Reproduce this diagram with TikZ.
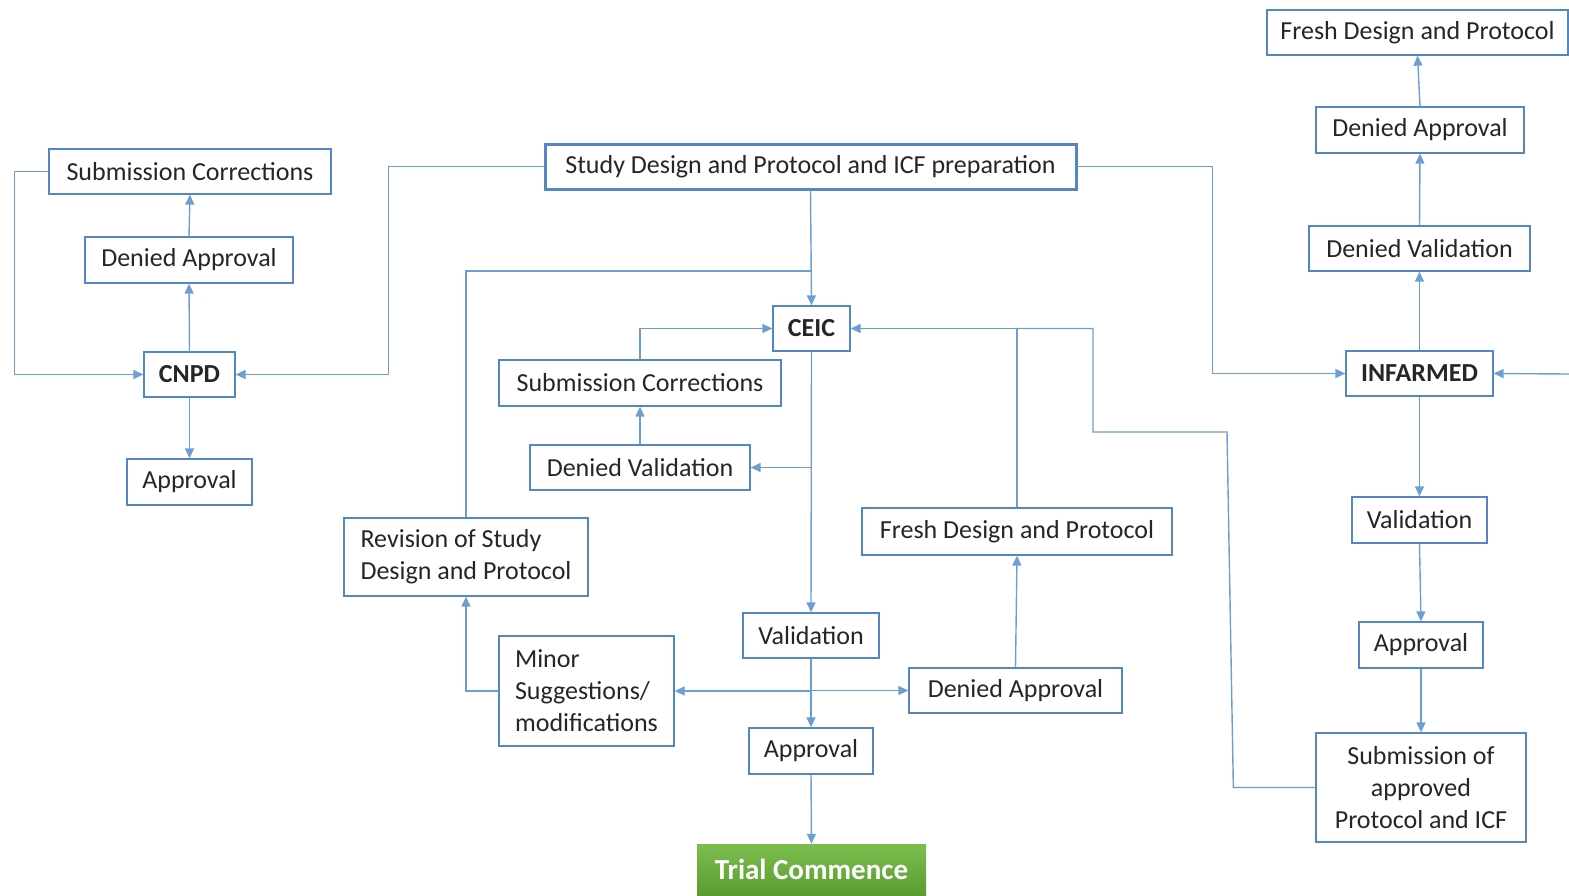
\documentclass[tikz,border=0pt]{standalone}
\usepackage{fontspec}
\setmainfont{Carlito}
\usetikzlibrary{arrows.meta}
\definecolor{linecol}{RGB}{108,158,210}
\definecolor{boxcol}{RGB}{84,134,192}
\definecolor{gtop}{RGB}{124,190,78}
\definecolor{gbot}{RGB}{90,156,50}
\tikzset{
  box/.style={draw=boxcol, line width=1.3pt, fill=white, inner sep=0pt,
    font=\fontsize{26}{32}\selectfont, text=black!85},
  bbox/.style={box, font=\fontsize{26}{32}\selectfont\bfseries},
  mline/.style={box, align=left},
  conn/.style={draw=linecol, line width=1.4pt, -{Triangle[length=10pt,width=9pt]}},
  plain/.style={draw=linecol, line width=1.4pt},
}
\begin{document}
\begin{tikzpicture}[x=1pt, y={(0pt,-1pt)}]
\useasboundingbox (0,0) rectangle (1569,895);
% main
\node[box, line width=3pt, minimum width=531, minimum height=45] (study) at (810.5,166.5) {Study Design and Protocol and ICF preparation};
% left column
\node[box, minimum width=282, minimum height=45] (lsc) at (190,171.5) {Submission Corrections};
\node[box, minimum width=208, minimum height=46] (lda) at (189,260) {Denied Approval};
\node[bbox, minimum width=91, minimum height=45] (cnpd) at (189.5,374.5) {CNPD};
\node[box, minimum width=125, minimum height=46] (lap) at (189.5,482) {Approval};
% center
\node[bbox, minimum width=77, minimum height=45] (ceic) at (811.5,328.5) {CEIC};
\node[box, minimum width=282, minimum height=46] (csc) at (640,383) {Submission Corrections};
\node[box, minimum width=220, minimum height=45] (cdv) at (640,467.5) {Denied Validation};
\node[mline, minimum width=244, minimum height=78] (rev) at (466,557) {Revision of Study\\Design and Protocol};
\node[mline, minimum width=175, minimum height=110] (minor) at (586.5,691) {Minor\\Suggestions/\\modifications};
\node[box, minimum width=136, minimum height=45] (cval) at (811,635.5) {Validation};
\node[box, minimum width=124, minimum height=46] (cap) at (811,751) {Approval};
\node[box, minimum width=310, minimum height=47] (cfresh) at (1017,531.5) {Fresh Design and Protocol};
\node[box, minimum width=213, minimum height=45] (cda) at (1015.5,690.5) {Denied Approval};
\shade[top color=gtop, bottom color=gbot] (697,844) rectangle (926,895);
\node[inner sep=0pt, minimum width=229, minimum height=51, text=white,
  font=\fontsize{29}{34}\selectfont\bfseries] (trial) at (811.5,869.5) {Trial Commence};
% right column
\node[box, minimum width=301, minimum height=45] (rfresh) at (1417.5,32.5) {Fresh Design and Protocol};
\node[box, minimum width=208, minimum height=46] (rda) at (1420,130) {Denied Approval};
\node[box, minimum width=221, minimum height=45] (rdv) at (1419.5,248.5) {Denied Validation};
\node[bbox, minimum width=147, minimum height=45] (inf) at (1419.5,373.5) {INFARMED};
\node[box, minimum width=135, minimum height=46] (rval) at (1419.5,520) {Validation};
\node[box, minimum width=124, minimum height=46] (rap) at (1421,645) {Approval};
\node[box, align=center, minimum width=210, minimum height=109] (sapp) at (1421,787.5) {Submission of\\approved\\Protocol and ICF};
% coordinates
\coordinate (redge) at (1569,374);
\coordinate (j1) at (1093,328.5);
\coordinate (j2) at (811,271);
% left connectors
\draw[conn] (study.west) -- ++(-155,0) |- (cnpd.east);
\draw[conn] (lsc.west) -- ++(-34,0) |- (cnpd.west);
\draw[conn] (cnpd.north) -- (lda.south);
\draw[conn] (lda.north) -- (lsc.south);
\draw[conn] (cnpd.south) -- (lap.north);
% center connectors
\draw[conn] (study.south) -- (ceic.north);
\draw[plain] (rev.north) |- (j2);
\draw[conn] (csc.north) |- (ceic.west);
\draw[conn] (cdv.north) -- (csc.south);
\draw[conn] (ceic.south) -- (cval.north);
\draw[conn] (ceic.south |- cdv.east) -- (cdv.east);
\draw[conn] (cval.south) -- (cap.north);
\draw[conn] (cval.south |- minor.east) -- (minor.east);
\draw[conn] (cval.south |- cda.west) -- (cda.west);
\draw[conn] (cap.south) -- (trial.north);
\draw[conn] (minor.west) -| (rev.south);
\draw[conn] (cda.north) -- (cfresh.south);
\draw[conn] (cfresh.north) |- (ceic.east);
\draw[plain] (sapp.west) -- ++(-82,0) -- (1227,432) -- (1093,432) -- (j1) -- (cfresh.north |- j1);
% right connectors
\draw[conn] (study.east) -- ++(135,0) |- (inf.west);
\draw[conn] (redge) -- (inf.east);
\draw[conn] (inf.north) -- (rdv.south);
\draw[conn] (rdv.north) -- (rda.south);
\draw[conn] (rda.north) -- (rfresh.south);
\draw[conn] (inf.south) -- (rval.north);
\draw[conn] (rval.south) -- (rap.north);
\draw[conn] (rap.south) -- (sapp.north);
\end{tikzpicture}
\end{document}
